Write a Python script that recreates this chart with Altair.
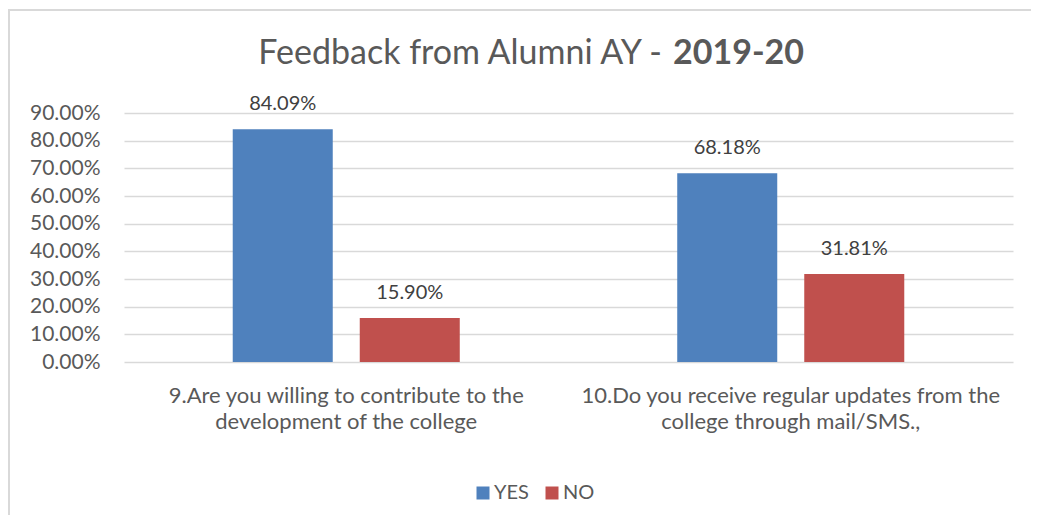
import altair as alt
import pandas as pd

questions = [
    "9.Are you willing to contribute to the\ndevelopment of the college",
    "10.Do you receive regular updates from the\ncollege through mail/SMS.,",
]
answers = ["YES", "NO"]
yes_values = [0.8409, 0.6818]
no_values = [0.1590, 0.3181]
colors = ["#4F81BD", "#C0504D"]
y_ticks = [0.0, 0.1, 0.2, 0.3, 0.4, 0.5, 0.6, 0.7, 0.8, 0.9]

rows = []
for q, y, n in zip(questions, yes_values, no_values):
    rows.append({"question": q, "answer": "YES", "value": y})
    rows.append({"question": q, "answer": "NO", "value": n})
df = pd.DataFrame(rows)

FONT = "Lato"
GREY = "#595959"
W, H = 889, 249

x_enc = alt.X("question:N", sort=questions, title=None,
              scale=alt.Scale(paddingInner=0, paddingOuter=0),
              axis=alt.Axis(labelExpr="split(datum.label, '\\n')", labelAngle=0,
                            labelFont=FONT, labelFontSize=22, labelColor=GREY,
                            labelLineHeight=26, labelPadding=23, ticks=False,
                            domain=False, labelBaseline="top", labelLimit=0,
                            labelOverlap=False))
y_enc = alt.Y("value:Q", title=None,
              scale=alt.Scale(domain=[0, 0.9], nice=False),
              axis=alt.Axis(format=".2%", values=y_ticks, tickCount=10,
                            labelFont=FONT, labelFontSize=21, labelColor=GREY,
                            labelPadding=24, ticks=False, domain=False,
                            labelOverlap=False, labelBound=False, labelFlush=False,
                            gridColor="#D9D9D9", gridWidth=1.5))
xoff = alt.XOffset("answer:N", sort=answers,
                   scale=alt.Scale(paddingInner=0.2126, paddingOuter=0.856))

bars = alt.Chart(df).mark_bar().encode(
    x=x_enc, y=y_enc, xOffset=xoff,
    color=alt.Color("answer:N", sort=answers,
                    scale=alt.Scale(domain=answers, range=colors),
                    legend=alt.Legend(title=None, orient="none", direction="horizontal",
                                      legendX=349, legendY=370, symbolType="square",
                                      symbolSize=169, symbolStrokeWidth=0,
                                      labelFont=FONT, labelFontSize=20, labelColor=GREY,
                                      columnPadding=13, labelOffset=1)),
)

labels = alt.Chart(df).mark_text(font=FONT, fontSize=20, color="#404040",
                                 baseline="alphabetic", dy=-19).encode(
    x=x_enc, y=y_enc, xOffset=xoff,
    text=alt.Text("value:Q", format=".2%"),
)

one = alt.Data(values=[{}])
title_a = alt.Chart(one).mark_text(font=FONT, fontSize=34, color=GREY, align="right",
                                   baseline="alphabetic").encode(
    x=alt.value(538), y=alt.value(-49), text=alt.value("Feedback from Alumni AY -"))
title_b = alt.Chart(one).mark_text(font=FONT, fontSize=34, color=GREY, align="left",
                                   fontWeight="bold", baseline="alphabetic").encode(
    x=alt.value(549), y=alt.value(-49), text=alt.value("2019-20"))

border_top = alt.Chart(one).mark_rule(color="#D9D9D9", strokeWidth=2).encode(
    x=alt.value(-116), x2=alt.value(W + 40), y=alt.value(-103))
border_left = alt.Chart(one).mark_rule(color="#D9D9D9", strokeWidth=2).encode(
    x=alt.value(-115), y=alt.value(-103), y2=alt.value(H + 260))

chart = alt.layer(border_top, border_left, bars, labels, title_a, title_b).properties(
    width=W, height=H,
    background="white",
    autosize=alt.AutoSizeParams(type="none"),
    padding={"left": 116, "top": 105, "right": 18, "bottom": 153},
).configure_view(strokeWidth=0)

chart.save("out.html", embed_options={"renderer": "svg", "actions": False})
